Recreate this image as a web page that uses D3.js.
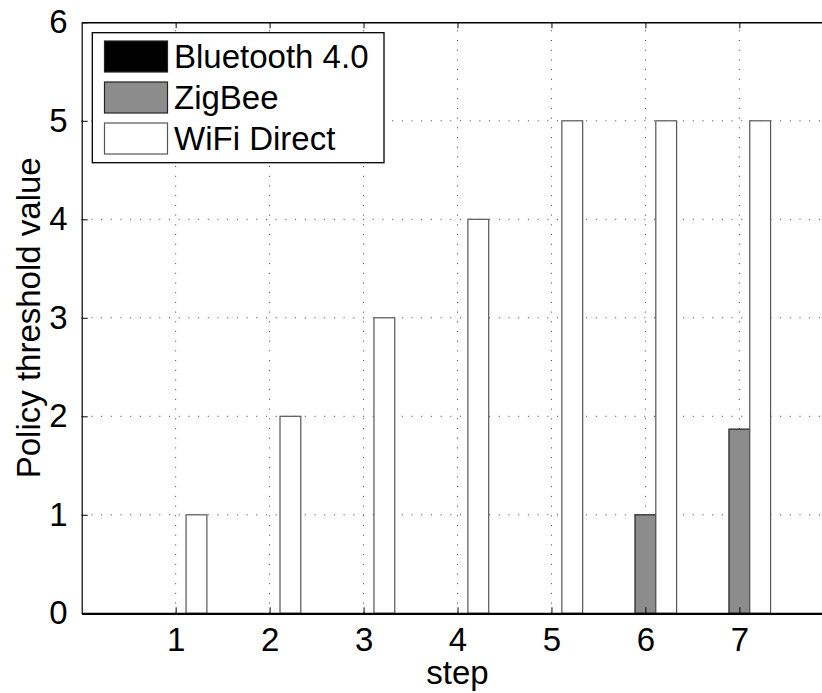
<!DOCTYPE html>
<html>
<head>
<meta charset="utf-8">
<script src="https://cdn.jsdelivr.net/npm/d3@7"></script>
<style>
  html, body { margin: 0; padding: 0; background: #fff; overflow: hidden; }
  svg { display: block; }
  text { font-family: "Liberation Sans", Arial, Helvetica, sans-serif; fill: #000; }
</style>
</head>
<body>
<svg id="chart" width="822" height="693"></svg>
<script>
const steps = [1, 2, 3, 4, 5, 6, 7];
const seriesNames = ["Bluetooth 4.0", "ZigBee", "WiFi Direct"];
const bluetooth = [0, 0, 0, 0, 0, 0, 0];
const zigbee = [0, 0, 0, 0, 0, 1, 1.87];
const wifi = [1, 2, 3, 4, 5, 5, 5];
const seriesColors = ["#000000", "#8c8c8c", "#ffffff"];
const yTicks = [0, 1, 2, 3, 4, 5, 6];
const xTicks = [1, 2, 3, 4, 5, 6, 7];

const svg = d3.select("#chart");
const pL = 81.7, pR = 833.3, pT = 22.3, pB = 613.3;
const FS = 33;
const x = d3.scaleLinear().domain([0, 8]).range([pL, pR]);
const y = d3.scaleLinear().domain([0, 6]).range([pB, pT]);
const barW = 0.2215; // bar width in x units

const series = [bluetooth, zigbee, wifi];

// dotted grid
const grid = svg.append("g").attr("stroke", "#000").attr("stroke-width", 1)
  .attr("stroke-dasharray", "1,8.7").attr("opacity", 0.75);
grid.append("g").selectAll("line").data(xTicks).join("line")
  .attr("x1", d => x(d)).attr("x2", d => x(d))
  .attr("y1", pB).attr("y2", pT);
grid.append("g").selectAll("line").data(yTicks.filter(d => d > 0 && d < 6)).join("line")
  .attr("x1", pL).attr("x2", pR)
  .attr("y1", d => y(d)).attr("y2", d => y(d));

// bars
series.forEach((vals, si) => {
  svg.append("g").selectAll("rect").data(vals.map((v, i) => ({ v, s: steps[i] }))).join("rect")
    .attr("x", d => x(d.s + (si - 1.5) * barW))
    .attr("width", x(barW) - x(0))
    .attr("y", d => y(d.v))
    .attr("height", d => y(0) - y(d.v))
    .attr("fill", seriesColors[si])
    .attr("stroke", si === 2 ? "#555" : "#222")
    .attr("stroke-width", 1.2);
});

// x axis
const gx = svg.append("g").attr("transform", `translate(0,${pB})`)
  .call(d3.axisBottom(x).tickValues(xTicks).tickSize(0).tickPadding(14).tickFormat(d3.format("d")));
gx.select(".domain").attr("stroke", "#000").attr("stroke-width", 2.2);
gx.selectAll("text").attr("font-size", FS).attr("dy", "0.71em");

// top edge with inward ticks
const gt = svg.append("g").attr("transform", `translate(0,${pT})`)
  .call(d3.axisTop(x).tickValues(xTicks).tickSizeInner(-6).tickSizeOuter(0).tickFormat(""));
gt.select(".domain").attr("stroke", "#000").attr("stroke-width", 1.5);
gt.selectAll(".tick line").attr("stroke", "#000");

// inward bottom ticks
const gb = svg.append("g").attr("transform", `translate(0,${pB})`)
  .call(d3.axisBottom(x).tickValues(xTicks).tickSizeInner(-6).tickSizeOuter(0).tickFormat(""));
gb.select(".domain").remove();
gb.selectAll(".tick line").attr("stroke", "#000");

// y axis
const gy = svg.append("g").attr("transform", `translate(${pL},0)`)
  .call(d3.axisLeft(y).tickValues(yTicks).tickSizeInner(-6).tickSizeOuter(0).tickPadding(14).tickFormat(d3.format("d")));
gy.select(".domain").attr("stroke", "#000").attr("stroke-width", 1.2);
gy.selectAll(".tick line").attr("stroke", "#000");
gy.selectAll("text").attr("font-size", FS);

// axis labels
svg.append("text").attr("x", x(4)).attr("y", 684).attr("text-anchor", "middle")
  .attr("font-size", FS).text("step");
svg.append("text").attr("transform", `translate(40,${(pT + pB) / 2}) rotate(-90)`)
  .attr("text-anchor", "middle").attr("font-size", FS).text("Policy threshold value");

// legend
const lg = svg.append("g");
lg.append("rect").attr("x", 92.3).attr("y", 32.7).attr("width", 291.7).attr("height", 130)
  .attr("fill", "#fff").attr("stroke", "#000").attr("stroke-width", 1.3);
seriesNames.forEach((name, i) => {
  const yy = 41 + i * 41;
  lg.append("rect").attr("x", 104.5).attr("y", yy).attr("width", 63).attr("height", 31)
    .attr("fill", seriesColors[i]).attr("stroke", i === 2 ? "#555" : "#222").attr("stroke-width", 1.2);
  lg.append("text").attr("x", 174).attr("y", yy + 15.5).attr("dy", "0.36em")
    .attr("font-size", FS).text(name);
});
</script>
</body>
</html>
